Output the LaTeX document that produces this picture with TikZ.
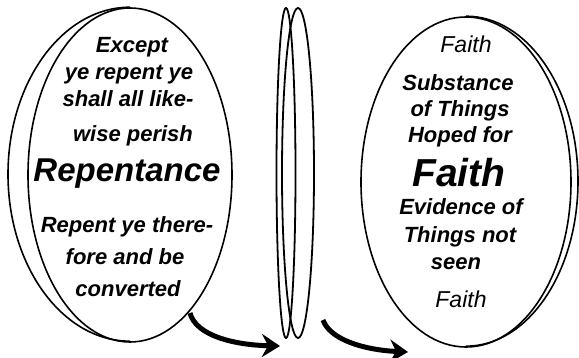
\documentclass[tikz,border=0pt]{standalone}
\usepackage{fontspec}
\setmainfont{Liberation Sans}
\usetikzlibrary{arrows.meta,shapes.geometric}
\begin{document}
\begin{tikzpicture}[x=1pt,y=-1pt,
  coin/.style={ellipse,draw,line width=1.6pt,fill=white,inner sep=0pt},
  lens/.style={ellipse,draw,line width=1.8pt,inner sep=0pt},
  rim/.style={line width=1.6pt},
  txt/.style={anchor=base,inner sep=0pt,font=\fontsize{22}{26}\selectfont\bfseries\itshape},
  bigtxt/.style={anchor=base,inner sep=0pt,font=\fontsize{33}{38}\selectfont\bfseries\itshape},
  hugetxt/.style={anchor=base,inner sep=0pt,font=\fontsize{39}{44}\selectfont\bfseries\itshape},
  thintxt/.style={anchor=base,inner sep=0pt,font=\fontsize{23}{26}\selectfont\itshape},
  bigarrow/.style={line width=5pt,-{Stealth[length=18pt,width=23pt,inset=6pt]}}]
\useasboundingbox (0,0) rectangle (579,358);
% left coin
\node[coin,minimum width=204pt,minimum height=334pt] (L) at (130,175) {};
\draw[rim] (L.north) arc[start angle=90,end angle=270,x radius=122pt,y radius=167pt];
% middle coin
\node[lens,minimum width=19pt,minimum height=330pt] (M1) at (286,173) {};
\node[lens,minimum width=32pt,minimum height=330pt] (M2) at (298,173) {};
% right coin
\node[coin,minimum width=210pt,minimum height=330pt] (R) at (466,182) {};
\draw[rim] (R.north) arc[start angle=90,end angle=-90,x radius=112pt,y radius=165pt];
% left text
\node[txt] (l1) at (132,53) {Except};
\node[txt] (l2) at (129,80) {ye repent ye};
\node[txt] (l3) at (128,107) {shall all like-};
\node[txt] (l4) at (133,142) {wise perish};
\node[bigtxt] (l5) at (127,182) {Repentance};
\node[txt] (l6) at (127,233) {Repent ye there-};
\node[txt] (l7) at (125,265) {fore and be};
\node[txt] (l8) at (128,297) {converted};
% right text
\node[thintxt] (r1) at (466,53) {Faith};
\node[txt] (r2) at (458,91) {Substance};
\node[txt] (r3) at (460,117) {of Things};
\node[txt] (r4) at (460,143) {Hoped for};
\node[hugetxt] (r5) at (459,187) {Faith};
\node[txt] (r6) at (461,215) {Evidence of};
\node[txt] (r7) at (460,243) {Things not};
\node[txt] (r8) at (456,270) {seen};
\node[thintxt] (r9) at (461,308) {Faith};
% arrows
\coordinate (a1s) at (190,313);
\coordinate (a1e) at (280,346);
\coordinate (a2s) at (323,320);
\coordinate (a2e) at (408,352);
\draw[bigarrow] (a1s) .. controls (196,336) and (235,345) .. (a1e);
\draw[bigarrow] (a2s) .. controls (330,340) and (365,350) .. (a2e);
\end{tikzpicture}
\end{document}
